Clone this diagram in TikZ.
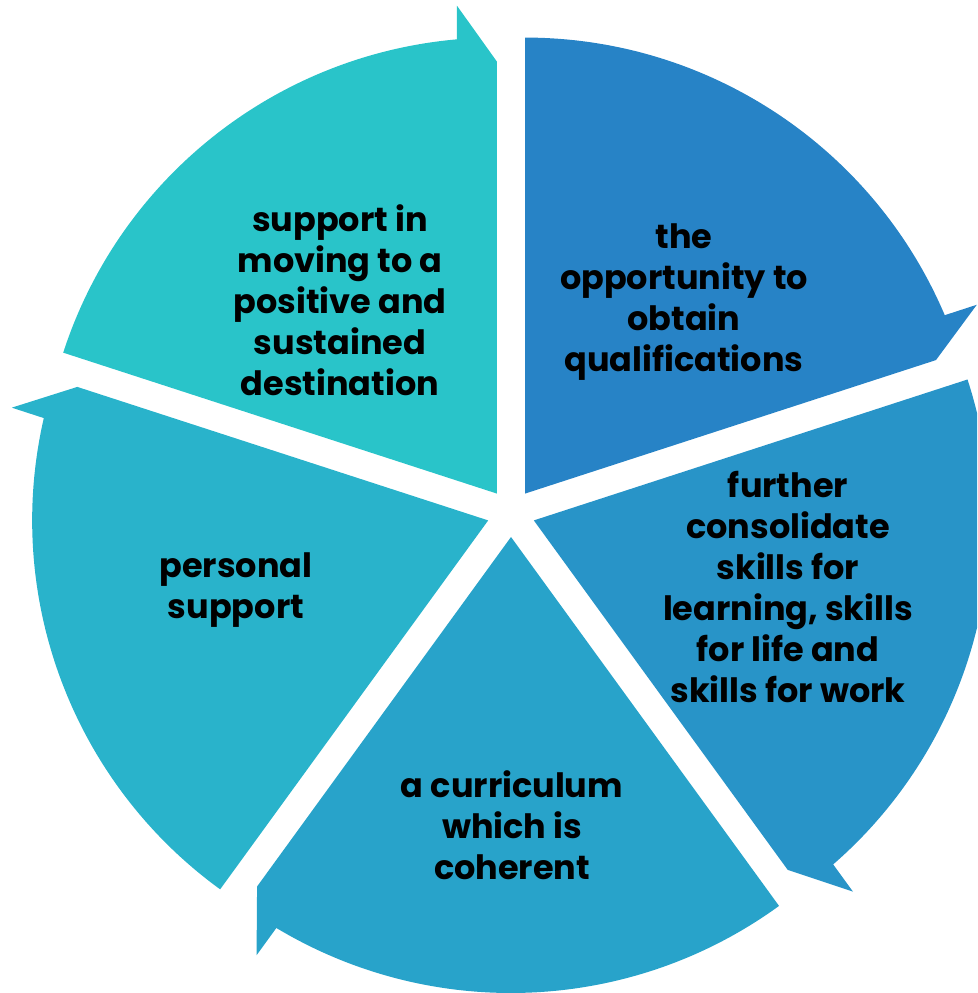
\documentclass[tikz,border=0pt]{standalone}
\usepackage{fontspec}
\setmainfont{Poppins}
\definecolor{cA}{HTML}{2783C6}
\definecolor{cB}{HTML}{2894C8}
\definecolor{cC}{HTML}{28A3CA}
\definecolor{cD}{HTML}{29B3CB}
\definecolor{cE}{HTML}{29C4C9}
\newcommand\pieslice[2]{%
  \pgfmathsetmacro\bis{#1-36}%
  \pgfmathsetmacro\aend{#1-72}%
  \begin{scope}[shift={({511+24*cos(\bis)},{480+24*sin(\bis)})}]
    \fill[#2] (0,0) -- (#1:456) arc[start angle=#1, end angle={\aend+5.03}, radius=456pt]
      -- ({\aend+4.686}:489.6) -- (\aend:432) -- cycle;
  \end{scope}}
\begin{document}
\begin{tikzpicture}[x=1pt,y=1pt,
  lbl/.style={align=center, text=black, font=\fontsize{33.5}{41}\selectfont\bfseries, inner sep=0pt}]
\path[use as bounding box, clip] (0,0) rectangle (977,993);
\pieslice{90}{cA}
\pieslice{18}{cB}
\pieslice{-54}{cC}
\pieslice{-126}{cD}
\pieslice{162}{cE}
\node[lbl] (t1) at (684,691) {the\\opportunity to\\obtain\\qualifications};
\node[lbl] (t2) at (788,406) {further\\consolidate\\skills for\\learning, skills\\for life and\\skills for work};
\node[lbl] (t3) at (512,168) {a curriculum\\which is\\coherent};
\node[lbl] (t4) at (236,403) {personal\\support};
\node[lbl] (t5) at (340,693) {support in\\moving to a\\positive and\\sustained\\destination};
\end{tikzpicture}
\end{document}
